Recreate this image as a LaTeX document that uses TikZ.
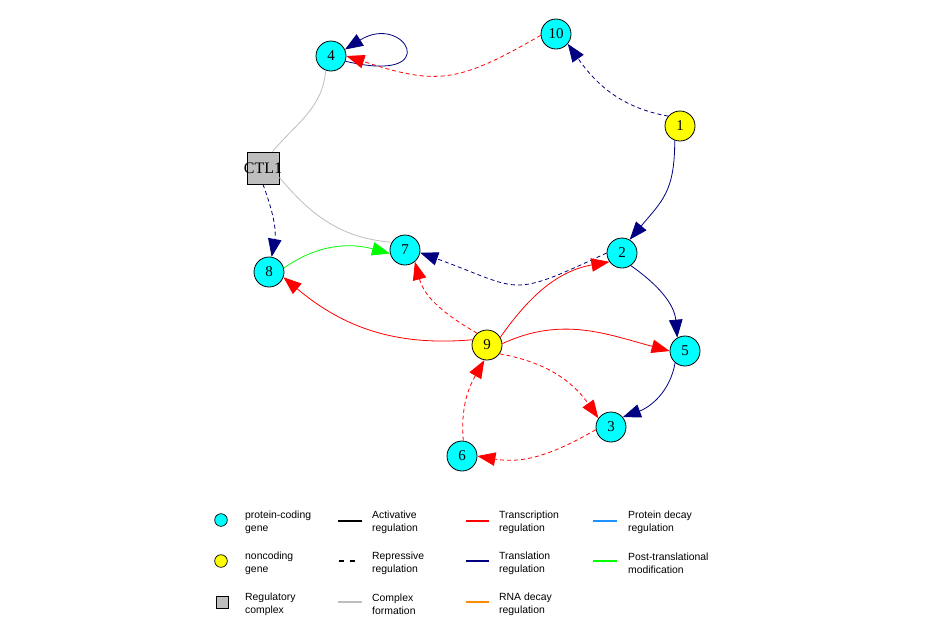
\documentclass[tikz,border=0pt]{standalone}
\usepackage{fontspec}
\setmainfont{Liberation Serif}
\newfontfamily\legfont{Liberation Sans}
\usetikzlibrary{arrows.meta}
\definecolor{ncyan}{HTML}{00FFFF}
\definecolor{nyellow}{HTML}{FFFF00}
\definecolor{ngray}{HTML}{BEBEBE}
\definecolor{nnavy}{HTML}{000080}
\definecolor{nred}{HTML}{FF0000}
\definecolor{ngreen}{HTML}{00FF00}
\definecolor{norange}{HTML}{FF8C00}
\definecolor{nblue}{HTML}{1E90FF}
\tikzset{
  gene/.style={circle,draw=black,line width=0.8pt,minimum size=30pt,inner sep=0pt,
    font=\fontsize{15}{15}\selectfont},
  pc/.style={gene,fill=ncyan},
  nc/.style={gene,fill=nyellow},
  cplx/.style={rectangle,draw=black,line width=0.8pt,fill=ngray,minimum size=32pt,inner sep=0pt},
  edge/.style={line width=0.8pt,-{Triangle[length=18pt,width=13.5pt]}},
  tr/.style={edge,draw=nred},
  tl/.style={edge,draw=nnavy},
  pt/.style={edge,draw=ngreen},
  cx/.style={line width=0.8pt,draw=ngray},
  rep/.style={dash pattern=on 4pt off 3pt},
  legtext/.style={anchor=west,align=left,inner sep=0pt,font=\legfont\fontsize{10.4}{13}\selectfont},
  legline/.style={line width=2.4pt}
}
\begin{document}
\begin{tikzpicture}[x=1pt,y=1pt]
\path[use as bounding box,fill=white] (0,0) rectangle (950,-625);
% nodes
\node[pc] (n4) at (331,-56) {4};
\node[pc] (n10) at (556,-34) {10};
\node[nc] (n1) at (680,-126) {1};
\node[cplx] (ctl) at (263,-168) {};
\node[inner sep=0pt,font=\fontsize{16}{16}\selectfont] (ctllabel) at (ctl.center) {CTL1};
\node[pc] (n8) at (269,-272) {8};
\node[pc] (n7) at (405,-250) {7};
\node[pc] (n2) at (622,-253) {2};
\node[nc] (n9) at (487,-345) {9};
\node[pc] (n5) at (685,-351) {5};
\node[pc] (n3) at (611,-427) {3};
\node[pc] (n6) at (462,-456) {6};
% edges
\draw[cx] (n4.-110) to[out=-95,in=50] (ctl.60);
\draw[cx] (ctl.-30) to[out=-50,in=175] (n7.150);
\draw[tl] (n4.-20) .. controls (445,-85) and (405,-12) .. (n4.25);
\draw[tr,rep] (n10.185) to[out=210,in=-18,looseness=1.25] (n4.0);
\draw[tl,rep] (n1.140) to[out=170,in=-55] (n10.-40);
\draw[tl] (n1.-110) to[out=-90,in=50,looseness=1.2] (n2.60);
\draw[tl,rep] (ctl.-90) to[out=-70,in=80] (n8.80);
\draw[pt] (n8.15) to[out=35,in=165] (n7.193);
\draw[tl,rep] (n2.180) to[out=205,in=-20,looseness=1.5] (n7.-10);
\draw[tr,rep] (n9.130) to[out=150,in=-75] (n7.-50);
\draw[tr] (n9.160) to[out=185,in=-40] (n8.-20);
\draw[tr] (n9.30) to[out=55,in=190] (n2.215);
\draw[tr] (n9.5) to[out=25,in=165] (n5.180);
\draw[tr,rep] (n9.-35) to[out=-10,in=125] (n3.145);
\draw[tl] (n2.-55) to[out=-35,in=95] (n5.120);
\draw[tl] (n5.-130) to[out=-100,in=20] (n3.40);
\draw[tr,rep] (n3.190) to[out=210,in=-10] (n6.0);
\draw[tr,rep] (n6.85) to[out=95,in=-120] (n9.-100);
% legend
\node[circle,draw=black,line width=0.7pt,fill=ncyan,minimum size=12.6pt,inner sep=0pt] (lg1) at (221,-520) {};
\node[circle,draw=black,line width=0.7pt,fill=nyellow,minimum size=12.6pt,inner sep=0pt] (lg2) at (221,-561) {};
\node[rectangle,draw=black,line width=0.7pt,fill=ngray,minimum size=12pt,inner sep=0pt] (lg3) at (222,-602) {};
\node[legtext] (lt1) at (245,-522.5) {protein-coding\\gene};
\node[legtext] (lt2) at (245,-563.5) {noncoding\\gene};
\node[legtext] (lt3) at (245,-604.5) {Regulatory\\complex};
\draw[legline,black] (338,-521) -- (362,-521);
\draw[legline,black] (338.5,-561) -- (343.5,-561);
\draw[legline,black] (349.5,-561) -- (354.5,-561);
\draw[legline,ngray] (338,-602) -- (362,-602);
\node[legtext] (lt4) at (372,-522.5) {Activative\\regulation};
\node[legtext] (lt5) at (372,-563.5) {Repressive\\regulation};
\node[legtext] (lt6) at (372,-604.5) {Complex\\formation};
\draw[legline,nred] (466,-521) -- (489,-521);
\draw[legline,nnavy] (466,-561) -- (489,-561);
\draw[legline,norange] (466,-602) -- (489,-602);
\node[legtext] (lt7) at (499,-522.5) {Transcription\\regulation};
\node[legtext] (lt8) at (499,-563.5) {Translation\\regulation};
\node[legtext] (lt9) at (499,-604.5) {RNA decay\\regulation};
\draw[legline,nblue] (593,-521) -- (617,-521);
\draw[legline,ngreen] (593,-561) -- (617,-561);
\node[legtext] (lt10) at (628,-522.5) {Protein decay\\regulation};
\node[legtext] (lt11) at (628,-563.5) {Post-translational\\modification};
\end{tikzpicture}
\end{document}
